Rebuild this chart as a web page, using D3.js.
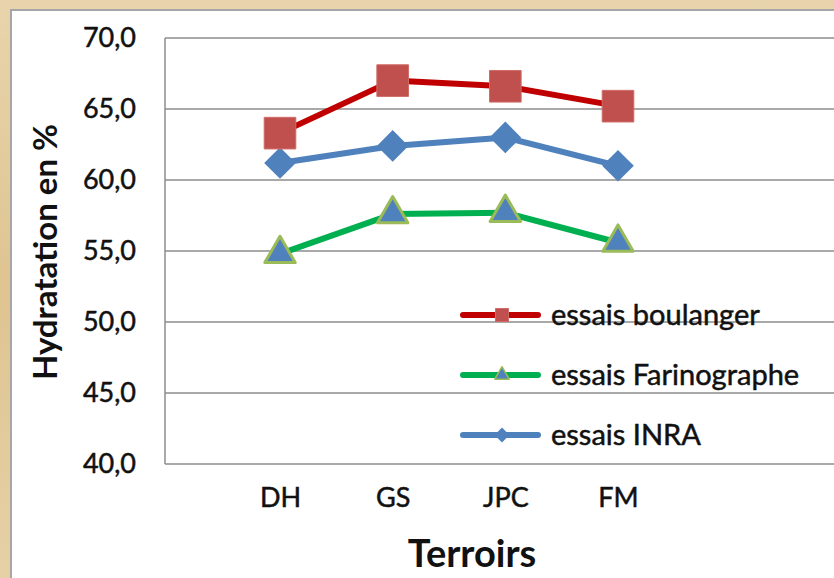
<!DOCTYPE html>
<html>
<head>
<meta charset="utf-8">
<script src="https://cdn.jsdelivr.net/npm/d3@7"></script>
<style>
  body { margin: 0; background: #e6d2a8; }
  svg { display: block; }
</style>
</head>
<body>
<div id="chart"></div>
<script>
// data
var terroirs = ["DH", "GS", "JPC", "FM"];
var boulanger = [63.3, 67.0, 66.6, 65.2];
var farinographe = [54.8, 57.6, 57.7, 55.6];
var inra = [61.2, 62.4, 63.0, 61.0];
var yTicks = [40, 45, 50, 55, 60, 65, 70];
var seriesNames = ["essais boulanger", "essais Farinographe", "essais INRA"];

var W = 834, H = 578;
var font = "Lato, 'Open Sans', sans-serif";

var svg = d3.select("#chart").append("svg")
  .attr("width", W)
  .attr("height", H);

// parchment background
var defs = svg.append("defs");
var grad = defs.append("linearGradient").attr("id", "parch")
  .attr("x1", 0).attr("y1", 0).attr("x2", 0).attr("y2", 1);
grad.append("stop").attr("offset", "0%").attr("stop-color", "#e8d4ac");
grad.append("stop").attr("offset", "50%").attr("stop-color", "#dfc491");
grad.append("stop").attr("offset", "100%").attr("stop-color", "#e6d0a6");
svg.append("rect").attr("width", W).attr("height", H).attr("fill", "url(#parch)");

// white card
svg.append("rect")
  .attr("x", 11).attr("y", 10)
  .attr("width", W).attr("height", H)
  .attr("fill", "#fff")
  .attr("stroke", "#a6a6a6")
  .attr("stroke-width", 2);

var plotLeft = 165, plotRight = W;

var x = d3.scalePoint()
  .domain(terroirs)
  .range([280, 618]);

var y = d3.scaleLinear()
  .domain([40, 70])
  .range([464, 38]);

// gridlines
svg.append("g")
  .selectAll("line")
  .data(yTicks)
  .enter()
  .append("line")
  .attr("x1", plotLeft).attr("x2", plotRight)
  .attr("y1", function(d) { return y(d); })
  .attr("y2", function(d) { return y(d); })
  .attr("stroke", "#8c8c8c")
  .attr("stroke-width", 1.5);

// left axis line
svg.append("line")
  .attr("x1", plotLeft).attr("x2", plotLeft)
  .attr("y1", y(70)).attr("y2", y(40))
  .attr("stroke", "#8c8c8c")
  .attr("stroke-width", 1.5);

// text a bit heavier, like the original
function heavy(sel, w) {
  sel.attr("stroke", "#111").attr("stroke-width", w).attr("paint-order", "stroke");
}

// y tick labels
var yAxis = svg.append("g")
  .attr("transform", "translate(" + plotLeft + ",0)")
  .call(d3.axisLeft(y)
    .tickValues(yTicks)
    .tickSize(0)
    .tickPadding(29)
    .tickFormat(function(d) { return d3.format(".1f")(d).replace(".", ","); }));
yAxis.select(".domain").remove();
yAxis.selectAll("text")
  .style("font-family", font)
  .style("font-size", "27px")
  .attr("fill", "#111")
  .call(heavy, 0.5);

// x tick labels
var xAxis = svg.append("g")
  .attr("transform", "translate(0," + y(40) + ")")
  .call(d3.axisBottom(x).tickSize(0).tickPadding(24));
xAxis.select(".domain").remove();
xAxis.selectAll("text")
  .style("font-family", font)
  .style("font-size", "27px")
  .attr("fill", "#111")
  .call(heavy, 0.5);

// axis titles
svg.append("text")
  .attr("transform", "translate(57,252) rotate(-90)")
  .attr("text-anchor", "middle")
  .style("font-family", font)
  .style("font-weight", "bold")
  .style("font-size", "33px")
  .attr("fill", "#111")
  .text("Hydratation en %");

svg.append("text")
  .attr("x", 472).attr("y", 567)
  .attr("text-anchor", "middle")
  .style("font-family", font)
  .style("font-weight", "bold")
  .style("font-size", "38px")
  .attr("fill", "#111")
  .text("Terroirs");

// series
var series = [
  { name: seriesNames[0], values: boulanger, line: "#c00000", sym: "square" },
  { name: seriesNames[1], values: farinographe, line: "#00b050", sym: "triangle" },
  { name: seriesNames[2], values: inra, line: "#4f81bd", sym: "diamond" }
];

function marker(g, sym, big) {
  if (sym === "square") {
    g.append("path")
      .attr("d", d3.symbol().type(d3.symbolSquare).size(big ? 1000 : 170)())
      .attr("fill", "#c0504d")
      .attr("stroke", "#d06a67")
      .attr("stroke-width", 1);
  } else if (sym === "diamond") {
    g.append("path")
      .attr("d", d3.symbol().type(d3.symbolSquare).size(big ? 500 : 110)())
      .attr("transform", "rotate(45)")
      .attr("fill", "#4f81bd");
  } else {
    g.append("path")
      .attr("d", d3.symbol().type(d3.symbolTriangle).size(big ? 400 : 90)())
      .attr("fill", "#4f81bd")
      .attr("stroke", "#9bbb59")
      .attr("stroke-width", big ? 3 : 1.5)
      .attr("stroke-linejoin", "round");
  }
}

var line = d3.line()
  .x(function(d, i) { return x(terroirs[i]); })
  .y(function(d) { return y(d); });

// draw order: INRA, Farinographe, boulanger on top
[series[2], series[1], series[0]].forEach(function(s) {
  svg.append("path")
    .datum(s.values)
    .attr("d", line)
    .attr("fill", "none")
    .attr("stroke", s.line)
    .attr("stroke-width", 6)
    .attr("stroke-linejoin", "round");
  s.values.forEach(function(v, i) {
    var g = svg.append("g")
      .attr("transform", "translate(" + x(terroirs[i]) + "," + y(v) + ")");
    marker(g, s.sym, true);
  });
});

// legend
var legendY = [315, 375, 435];
series.forEach(function(s, i) {
  var g = svg.append("g").attr("transform", "translate(0," + legendY[i] + ")");
  g.append("line")
    .attr("x1", 463).attr("x2", 538)
    .attr("stroke", s.line)
    .attr("stroke-width", 6)
    .attr("stroke-linecap", "round");
  var m = g.append("g").attr("transform", "translate(502,0)");
  marker(m, s.sym, false);
  g.append("text")
    .attr("x", 551).attr("y", 10)
    .style("font-family", font)
    .style("font-size", "29px")
    .attr("fill", "#111")
    .call(heavy, 0.5)
    .text(s.name);
});
</script>
</body>
</html>
